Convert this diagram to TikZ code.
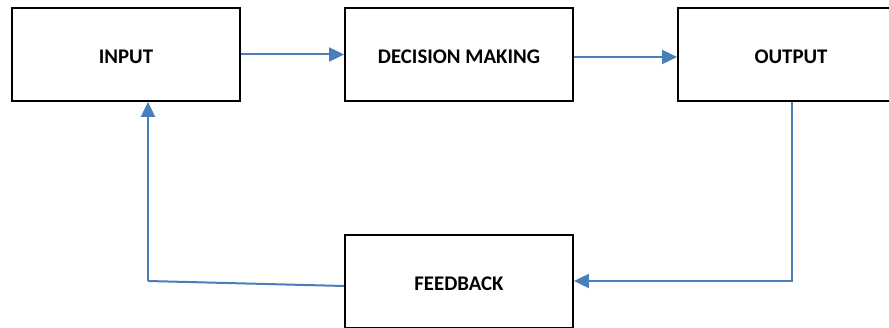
\documentclass[tikz,border=0pt]{standalone}
\usepackage{fontspec}
\setmainfont{Carlito}
\usetikzlibrary{arrows.meta}
\definecolor{linkblue}{HTML}{4A7EBB}
\tikzset{
  box/.style={draw=black, line width=1.8pt, rectangle, minimum width=228pt, minimum height=93pt, inner sep=0pt, text height=18pt, text depth=0pt, font=\fontsize{20.8}{24}\selectfont\bfseries},
  link/.style={draw=linkblue, line width=2pt, -{Triangle[length=15pt,width=14pt]}},
  plainlink/.style={draw=linkblue, line width=2pt}
}
\begin{document}
\begin{tikzpicture}[x=1pt,y=-1pt]
\useasboundingbox (0,0) rectangle (889,328);
\clip (0,0) rectangle (889,328);
\node[box] (input) at (126,54.5) {INPUT};
\node[box] (dm) at (459,54.5) {DECISION MAKING};
\node[box, minimum width=226pt] (out) at (791,54.5) {OUTPUT};
\node[box] (fb) at (459,281.5) {FEEDBACK};
\coordinate (c1) at (792,281);
\coordinate (c2) at (148,281);
\draw[link] (input.east) -- (dm.west);
\draw[link] ([yshift=-2.5pt]dm.east) -- ([yshift=-2.5pt]out.west);
\draw[link] (out.south -| c1) -- (c1) -- (fb.east |- c1);
\draw[plainlink] ([yshift=-4.5pt]fb.west) -- (c2);
\draw[link] (c2) -- (input.south -| c2);
\end{tikzpicture}
\end{document}
